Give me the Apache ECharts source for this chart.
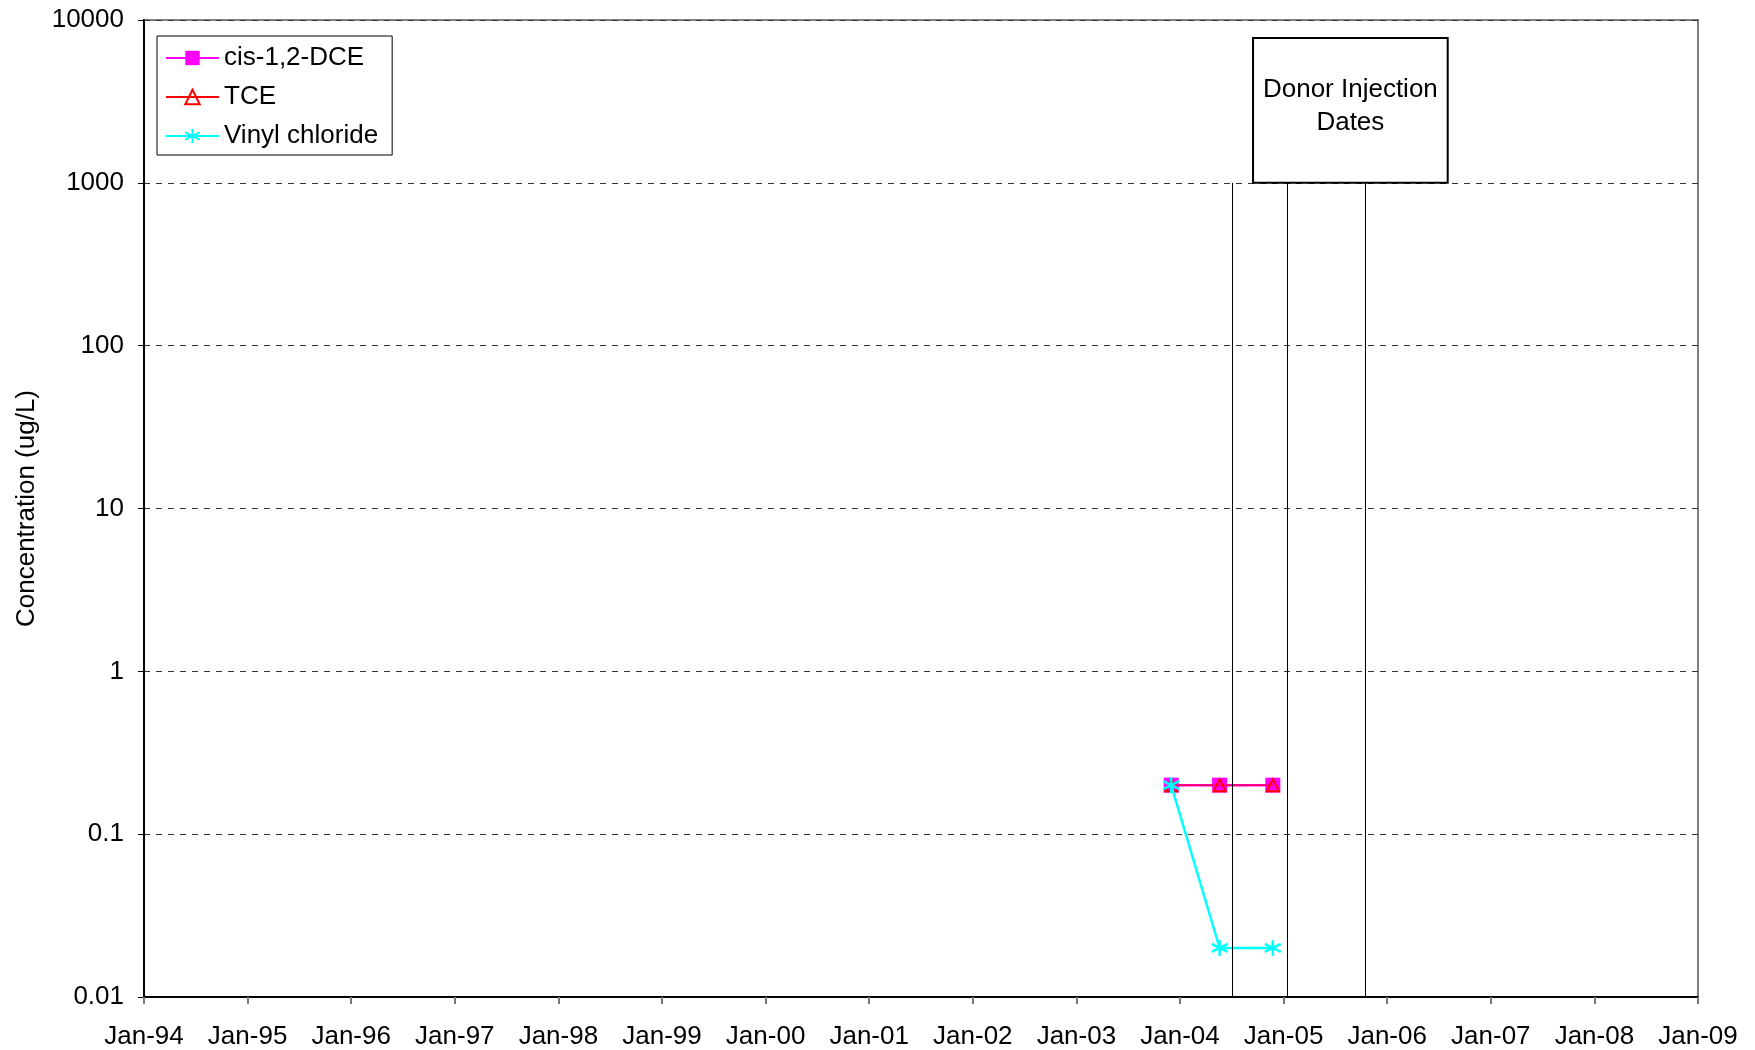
<!DOCTYPE html>
<html>
<head>
<meta charset="utf-8">
<script src="https://cdn.jsdelivr.net/npm/echarts@6/dist/echarts.min.js"></script>
<style>
  html, body { margin: 0; padding: 0; background: #fff; }
  #chart { width: 1755px; height: 1050px; }
</style>
</head>
<body>
<div id="chart"></div>
<script>
// sample dates and concentrations (ug/L)
const sampleDates = ['2003-12-01', '2004-05-20', '2004-11-24'];
const cisDCE = [0.2, 0.2, 0.2];
const tce = [0.2, 0.2, 0.2];
const vinylChloride = [0.2, 0.02, 0.02];

// donor injection dates
const injectionDates = ['2004-07-04', '2005-01-15', '2005-10-15'];

const xTickLabels = ['Jan-94', 'Jan-95', 'Jan-96', 'Jan-97', 'Jan-98', 'Jan-99', 'Jan-00', 'Jan-01',
    'Jan-02', 'Jan-03', 'Jan-04', 'Jan-05', 'Jan-06', 'Jan-07', 'Jan-08', 'Jan-09'];
const yTickLabels = ['0.01', '0.1', '1', '10', '100', '1000', '10000'];

// date string -> decimal year
function toYear(s) {
    const d = new Date(s + 'T00:00:00Z');
    const y = d.getUTCFullYear();
    const start = Date.UTC(y, 0, 1);
    const end = Date.UTC(y + 1, 0, 1);
    return y + (d.getTime() - start) / (end - start);
}

const xs = sampleDates.map(toYear);
const pairs = (vals) => vals.map((v, i) => [xs[i], v]);

const FONT = '"Liberation Sans", Arial, sans-serif';
const FS = 26;
const asterisk = 'path://M0,-10L0,10M-8.66,-5L8.66,5M-8.66,5L8.66,-5';

const chart = echarts.init(document.getElementById('chart'));

const option = {
    backgroundColor: '#fff',
    animation: false,
    textStyle: { fontFamily: FONT },
    grid: {
        left: 144,
        right: 57,
        top: 20,
        bottom: 53,
        show: true,
        borderColor: '#808080',
        borderWidth: 2
    },
    legend: {
        orient: 'vertical',
        left: 157,
        top: 36,
        backgroundColor: '#fff',
        borderColor: '#000',
        borderWidth: 1,
        padding: [9, 14, 6, 8],
        itemGap: 13,
        itemWidth: 53,
        itemHeight: 18,
        itemTextGap: 7,
        textStyle: { fontSize: FS, color: '#000', fontFamily: FONT },
        data: ['cis-1,2-DCE', 'TCE', 'Vinyl chloride']
    },
    xAxis: {
        type: 'value',
        min: 1994,
        max: 2009,
        interval: 1,
        axisLine: { lineStyle: { color: '#000', width: 2 } },
        axisTick: { inside: false, length: 7, lineStyle: { color: '#777', width: 2 } },
        axisLabel: {
            margin: 27,
            fontSize: FS,
            color: '#000',
            fontFamily: FONT,
            formatter: (v) => xTickLabels[Math.round(v - 1994)] || ''
        },
        splitLine: { show: false }
    },
    yAxis: {
        type: 'log',
        logBase: 10,
        min: 0.01,
        max: 10000,
        name: 'Concentration (ug/L)',
        nameLocation: 'middle',
        nameGap: 104,
        nameTextStyle: { fontSize: FS, color: '#000', fontFamily: FONT },
        axisLine: { show: true, lineStyle: { color: '#000', width: 2 } },
        axisTick: { inside: false, length: 6, lineStyle: { color: '#000', width: 1 } },
        axisLabel: {
            margin: 20,
            fontSize: FS,
            color: '#000',
            fontFamily: FONT,
            formatter: (v) => yTickLabels[Math.round(Math.log10(v)) + 2] || ''
        },
        splitLine: {
            show: true,
            lineStyle: { color: '#333', type: [6, 6], width: 1 }
        }
    },
    series: [
        {
            name: 'cis-1,2-DCE',
            type: 'line',
            data: pairs(cisDCE),
            symbol: 'rect',
            symbolSize: 15,
            itemStyle: { color: '#FF00FF' },
            lineStyle: { color: '#FF00FF', width: 2.5 },
            z: 2,
            markLine: {
                silent: true,
                symbol: 'none',
                label: { show: false },
                lineStyle: { color: '#000', width: 1, type: 'solid' },
                data: injectionDates.map((d) => [
                    { coord: [toYear(d), 1000] },
                    { coord: [toYear(d), 0.01] }
                ])
            },
            markArea: {
                silent: true,
                itemStyle: { color: '#fff', borderColor: '#000', borderWidth: 2 },
                label: {
                    show: true,
                    position: 'inside',
                    offset: [0, -4],
                    formatter: 'Donor Injection\nDates',
                    fontSize: FS,
                    lineHeight: 33,
                    color: '#000',
                    fontFamily: FONT
                },
                data: [[
                    { coord: [2004.705, 7750] },
                    { coord: [2006.584, 1000] }
                ]]
            }
        },
        {
            name: 'TCE',
            type: 'line',
            data: pairs(tce),
            symbol: 'triangle',
            symbolSize: 12,
            itemStyle: { color: 'rgba(0,0,0,0)', borderColor: '#FF0000', borderWidth: 2 },
            lineStyle: { color: '#FF0000', width: 1 },
            z: 3
        },
        {
            name: 'Vinyl chloride',
            type: 'line',
            data: pairs(vinylChloride),
            symbol: asterisk,
            symbolSize: 16,
            itemStyle: { color: '#00FFFF', borderColor: '#00FFFF', borderWidth: 2.5 },
            lineStyle: { color: '#00FFFF', width: 2.5 },
            z: 4
        }
    ]
};

chart.setOption(option);
</script>
</body>
</html>
